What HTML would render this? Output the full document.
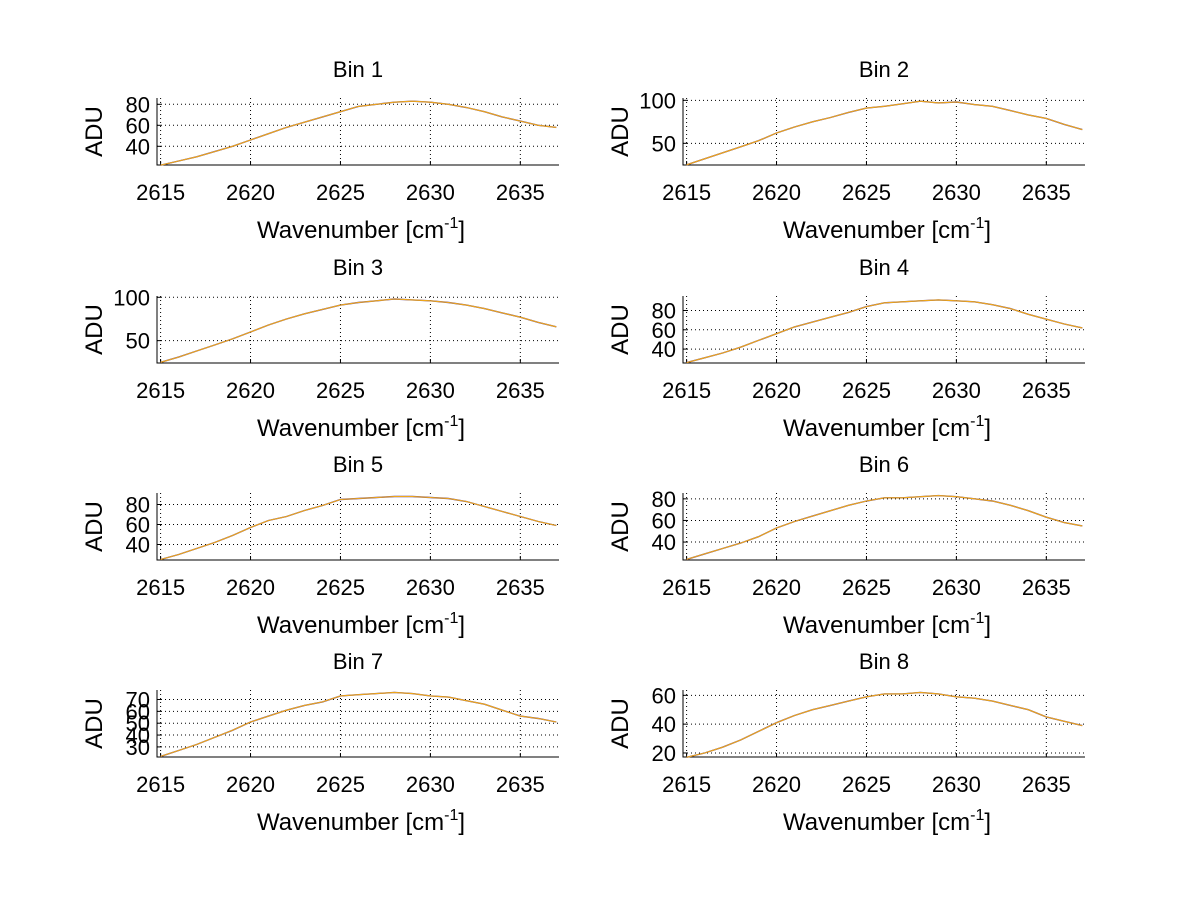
<!DOCTYPE html>
<html><head><meta charset="utf-8"><style>
html,body{margin:0;padding:0;background:#fff}
svg{display:block;font-family:"Liberation Sans",Arial,sans-serif}
</style></head><body>
<svg id="fig" width="1200" height="901" viewBox="0 0 1200 901" xmlns="http://www.w3.org/2000/svg"></svg>
<script>
const wavenumbers=[2615,2616,2617,2618,2619,2620,2621,2622,2623,2624,2625,2626,2627,2628,2629,2630,2631,2632,2633,2634,2635,2636,2637];
const xTicks=[2615,2620,2625,2630,2635];
const bin1=[22,26,30,35,40,46,52,58,63,68,73,78,80,82,83,82,80,77,73,68,64,60,58];
const bin2=[25,32,39,46,53,62,69,75,80,86,91,93,96,99,97,98,95,93,88,83,79,72,66];
const bin3=[25,31,38,45,52,60,68,75,81,86,91,94,96,98,97,96,94,91,87,82,77,71,66];
const bin4=[26,31,36,42,49,56,63,68,73,78,84,88,89,90,91,90,89,86,82,76,71,66,62];
const bin5=[25,30,36,42,49,57,64,68,74,79,85,86,87,88,88,87,86,83,78,73,68,63,59];
const bin6=[24,29,34,39,45,53,59,64,69,74,78,81,81,82,83,82,80,78,74,69,63,58,55];
const bin7=[22,27,32,38,44,51,56,61,65,68,73,74,75,76,75,73,72,69,66,61,56,54,51];
const bin8=[17,20,24,29,35,41,46,50,53,56,59,61,61,62,61,59,58,56,53,50,45,42,39];
const series=[bin1,bin2,bin3,bin4,bin5,bin6,bin7,bin8];
const yTicks=[[40,60,80],[50,100],[50,100],[40,60,80],[40,60,80],[40,60,80],[30,40,50,60,70],[20,40,60]];
const yRanges=[[22.2,86],[24.8,102.7],[24.2,101.5],[25.6,95],[24.5,91.5],[23.4,85.4],[21.5,78],[17.2,63.7]];
const xMin=2614.8,xMax=2637.15;
const NS="http://www.w3.org/2000/svg";
const svg=document.getElementById('fig');
function mk(tag,attrs,parent){const e=document.createElementNS(NS,tag);for(const k in attrs)e.setAttribute(k,attrs[k]);(parent||svg).appendChild(e);return e;}
const colX=[157,683], rowY=[98,296,493,690], W=402, H=67;
series.forEach((vals,i)=>{
  const col=i%2,row=Math.floor(i/2);
  const x0=colX[col],y0=rowY[row];
  const g=mk('g',{});
  
  
  const [ymin,ymax]=yRanges[i];
  const sx=v=>x0+(v-xMin)/(xMax-xMin)*W;
  const sy=v=>y0+H-(v-ymin)/(ymax-ymin)*H;
  xTicks.forEach(t=>{const l=mk('line',{x1:sx(t),x2:sx(t),y1:y0,y2:y0+H,stroke:'#000','stroke-width':1,'stroke-dasharray':'1,3'},g);
    
    mk('line',{x1:sx(t),x2:sx(t),y1:y0+H,y2:y0+H-4,stroke:'#000'},g);
    const tx=mk('text',{x:sx(t),y:y0+H+35,'text-anchor':'middle','font-size':22,fill:'#000'},g);tx.textContent=t;
    });
  yTicks[i].forEach(t=>{const l=mk('line',{x1:x0,x2:x0+W,y1:sy(t),y2:sy(t),stroke:'#000','stroke-width':1,'stroke-dasharray':'1,3'},g);
    
    mk('line',{x1:x0,x2:x0+4,y1:sy(t),y2:sy(t),stroke:'#000'},g);
    const tx=mk('text',{x:x0-7,y:sy(t)+8,'text-anchor':'end','font-size':22,fill:'#000'},g);tx.textContent=t;
    });
  const ax=mk('path',{d:`M${x0},${y0} V${y0+H} H${x0+W}`,stroke:'#000',fill:'none','stroke-width':1},g);
  
  const pts=wavenumbers.map((w,k)=>sx(w).toFixed(1)+','+sy(vals[k]).toFixed(1)).join(' ');
  const u=mk('polyline',{points:pts,fill:'none',stroke:'#5a3c8c','stroke-width':1.4},g);
  
  const p=mk('polyline',{points:pts,fill:'none',stroke:'#f0a818','stroke-width':1.1},g);
  
  const tt=mk('text',{x:x0+W/2,y:y0-21,'text-anchor':'middle','font-size':22,fill:'#000'},g);tt.textContent='Bin '+(i+1);
  
  const yl=mk('text',{x:0,y:0,'text-anchor':'middle','font-size':24,fill:'#000',transform:`translate(${x0-55},${y0+H/2}) rotate(-90)`},g);yl.textContent='ADU';
  
  const xl=mk('text',{x:x0+W/2+3,y:y0+H+73,'text-anchor':'middle','font-size':24,fill:'#000'},g);
  xl.innerHTML='Wavenumber [cm<tspan dy="-10" font-size="16">-1</tspan><tspan dy="10">]</tspan>';
  
});
</script>
</body></html>
